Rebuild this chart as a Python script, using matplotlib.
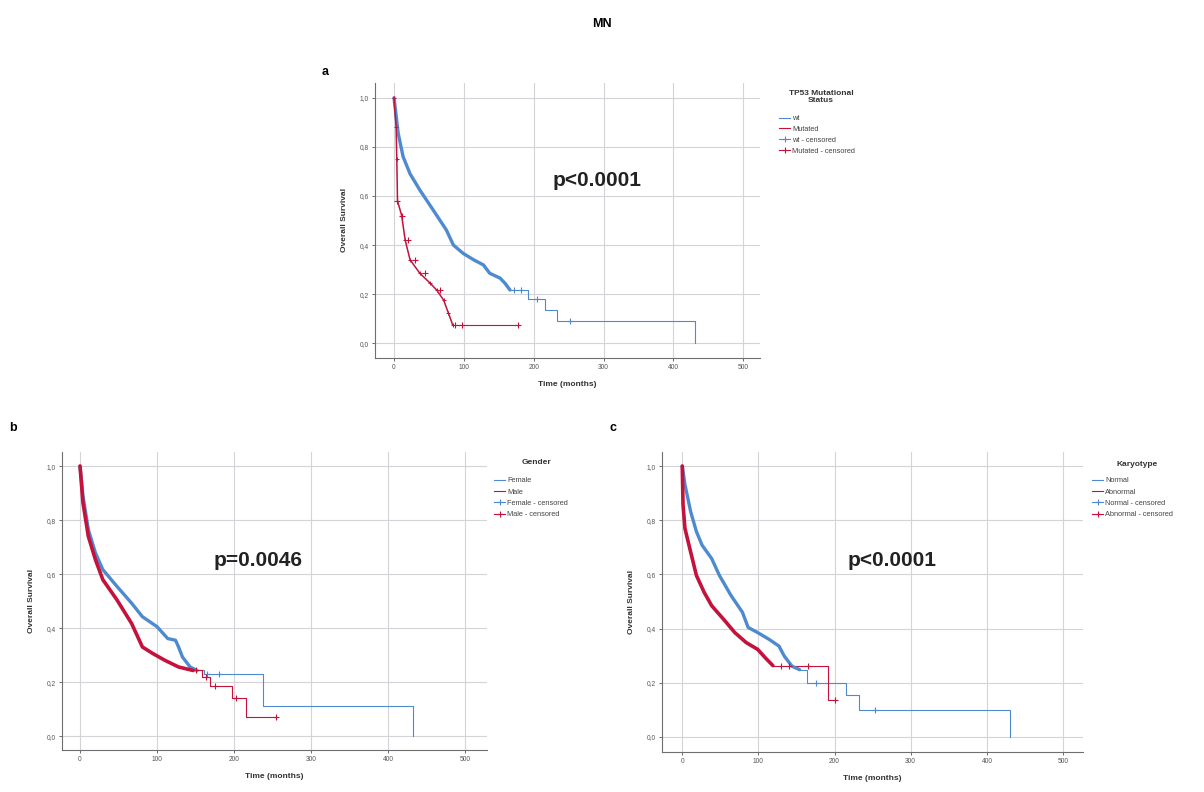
import matplotlib
matplotlib.use("Agg")
import matplotlib.pyplot as plt
from matplotlib.lines import Line2D

plt.rcParams['font.family'] = ['Liberation Sans', 'DejaVu Sans']

BLUE = "#4d8ad0"
RED = "#c4123c"

# panel a: TP53 mutational status
a_wt_t = [0, 6, 13, 23, 37, 56, 75, 85, 99, 114, 128, 137, 152, 159, 166, 192, 216, 233, 431]
a_wt_s = [1.0, 0.855, 0.76, 0.69, 0.624, 0.543, 0.461, 0.40, 0.366, 0.34, 0.319, 0.285,
          0.265, 0.244, 0.217, 0.18, 0.135, 0.09, 0.0]
a_wt_cens = [172, 182, 204, 252]
a_mut_t = [0, 3, 4, 5, 11, 16, 23, 37, 52, 61, 71, 78, 84, 177]
a_mut_s = [1.0, 0.88, 0.75, 0.58, 0.52, 0.42, 0.34, 0.285, 0.244, 0.217, 0.176, 0.122, 0.075, 0.075]
a_mut_cens = [5, 12, 20, 30, 45, 66, 88, 97, 177]

# panel b: gender
b_fem_t = [0, 3.8, 10.8, 20, 29.6, 48, 67, 81, 100, 114, 124, 128, 133, 143, 152, 161, 238, 433]
b_fem_s = [1.0, 0.89, 0.765, 0.679, 0.617, 0.555, 0.493, 0.443, 0.406, 0.362, 0.356, 0.331,
           0.294, 0.257, 0.244, 0.232, 0.114, 0.0]
b_fem_cens = [165, 180]
b_male_t = [0, 3.8, 10.8, 20, 29.6, 48, 67, 81, 95, 110, 128, 147, 159, 169, 197, 216, 255]
b_male_s = [1.0, 0.865, 0.74, 0.654, 0.58, 0.505, 0.418, 0.331, 0.306, 0.282, 0.257, 0.244,
            0.22, 0.186, 0.143, 0.071, 0.071]
b_male_cens = [150, 163, 175, 203, 255]

# panel c: karyotype
c_norm_t = [0, 3.5, 11, 18.6, 26, 38.7, 48.8, 64, 79, 86.5, 99, 114, 127, 134, 144, 154, 164,
            215, 232, 430]
c_norm_s = [1.0, 0.932, 0.832, 0.758, 0.708, 0.658, 0.596, 0.522, 0.46, 0.404, 0.385, 0.36,
            0.335, 0.298, 0.261, 0.248, 0.199, 0.155, 0.099, 0.0]
c_norm_cens = [175, 253]
c_abn_t = [0, 1, 3.5, 11, 18.6, 28.7, 38.7, 54, 69, 84, 99, 109, 119, 192, 200]
c_abn_s = [1.0, 0.857, 0.77, 0.683, 0.596, 0.534, 0.484, 0.435, 0.385, 0.348, 0.323, 0.292,
           0.263, 0.137, 0.137]
c_abn_cens = [130, 140, 165, 200]

x_ticks = [0, 100, 200, 300, 400, 500]
y_ticks = [0.0, 0.2, 0.4, 0.6, 0.8, 1.0]
y_tick_labels = ["0,0", "0,2", "0,4", "0,6", "0,8", "1,0"]


def surv_at(times, surv, t):
    value = surv[0]
    for ti, si in zip(times, surv):
        if ti <= t:
            value = si
    return value


def draw_curve(ax, times, surv, cens, color, dense_until, dense_lw, dense_marks=False):
    # densely censored early part: many tiny steps, drawn as a thick line
    k = len([t for t in times if t <= dense_until])
    ax.plot(times[:k], surv[:k], color=color, lw=dense_lw, solid_capstyle="round",
            solid_joinstyle="round", zorder=4)
    if dense_marks:
        ax.plot(times[:k], surv[:k], ls="none", marker="+", ms=3.5, mew=0.7, color=color, zorder=4)
    # sparse tail: real steps
    ax.step(times[k - 1:], surv[k - 1:], where="post", color=color, lw=0.8, zorder=3)
    ax.plot(cens, [surv_at(times, surv, c) for c in cens], ls="none", marker="+",
            ms=4, mew=0.8, color=color, zorder=4)


def style_axes(ax, xlim, ylim):
    ax.set_xlim(*xlim)
    ax.set_ylim(*ylim)
    ax.set_xticks(x_ticks)
    ax.set_yticks(y_ticks)
    ax.set_yticklabels(y_tick_labels)
    ax.grid(True, color="#d4d4d8", lw=0.8)
    ax.set_axisbelow(True)
    for side in ["top", "right"]:
        ax.spines[side].set_visible(False)
    for side in ["left", "bottom"]:
        ax.spines[side].set_color("#6e6e6e")
        ax.spines[side].set_linewidth(0.8)
    ax.tick_params(labelsize=4.8, length=2, width=0.6, pad=2.5, colors="#555555")
    ax.set_xlabel("Time (months)", fontsize=6, fontweight="bold", labelpad=7, color="#333333")
    ax.set_ylabel("Overall Survival", fontsize=6, fontweight="bold", labelpad=8, color="#333333")


def add_legend(fig, ax, title, title_xy, names, anchor, spacing):
    fig.text(title_xy[0] / 1204, 1 - title_xy[1] / 792, title, ha="center", va="center",
             fontsize=6, fontweight="bold", color="#333333", linespacing=1.15)
    handles = [
        Line2D([], [], color=BLUE, lw=0.8),
        Line2D([], [], color=RED, lw=0.8),
        Line2D([], [], color=BLUE, lw=0.8, marker="+", ms=5, mew=0.8),
        Line2D([], [], color=RED, lw=0.8, marker="+", ms=5, mew=0.8),
    ]
    labels = [names[0], names[1], names[0] + " - censored", names[1] + " - censored"]
    leg = ax.legend(handles, labels, loc="upper left",
                    bbox_to_anchor=(anchor[0] / 1204, 1 - anchor[1] / 792),
                    bbox_transform=fig.transFigure, frameon=False, fontsize=5.3,
                    handlelength=1.5, handletextpad=0.3, labelspacing=spacing,
                    borderpad=0, borderaxespad=0)
    for txt in leg.get_texts():
        txt.set_color("#444444")


fig = plt.figure(figsize=(12.04, 7.92), dpi=100)
fig.text(0.5, 1 - 24 / 792, "MN", ha="center", va="center", fontsize=9, fontweight="bold")

# panel a
ax_a = fig.add_axes([375 / 1204, 1 - 358 / 792, 385 / 1204, 275 / 792])
style_axes(ax_a, (-27.2, 523.9), (-0.06, 1.06))
draw_curve(ax_a, a_wt_t, a_wt_s, a_wt_cens, BLUE, 166, 2.4)
draw_curve(ax_a, a_mut_t, a_mut_s, a_mut_cens, RED, 84, 1.1, dense_marks=True)
fig.text(597 / 1204, 1 - 181 / 792, "p<0.0001", ha="center", va="center",
         fontsize=15, fontweight="bold", color="#222222")
fig.text(325 / 1204, 1 - 72 / 792, "a", ha="center", va="center", fontsize=9, fontweight="bold")
add_legend(fig, ax_a, "TP53 Mutational\nStatus", (821, 97), ["wt", "Mutated"], (779, 115), 0.5)

# panel b
ax_b = fig.add_axes([62 / 1204, 1 - 750 / 792, 425 / 1204, 298 / 792])
style_axes(ax_b, (-23.4, 528.6), (-0.05, 1.052))
draw_curve(ax_b, b_fem_t, b_fem_s, b_fem_cens, BLUE, 152, 2.4)
draw_curve(ax_b, b_male_t, b_male_s, b_male_cens, RED, 147, 2.6)
fig.text(258 / 1204, 1 - 561 / 792, "p=0.0046", ha="center", va="center",
         fontsize=15, fontweight="bold", color="#222222")
fig.text(13 / 1204, 1 - 428 / 792, "b", ha="center", va="center", fontsize=9, fontweight="bold")
add_legend(fig, ax_b, "Gender", (537, 463), ["Female", "Male"], (494, 477), 0.58)

# panel c
ax_c = fig.add_axes([662 / 1204, 1 - 751.7 / 792, 421 / 1204, 299.7 / 792])
style_axes(ax_c, (-26.6, 526.2), (-0.055, 1.052))
draw_curve(ax_c, c_norm_t, c_norm_s, c_norm_cens, BLUE, 154, 2.4)
draw_curve(ax_c, c_abn_t, c_abn_s, c_abn_cens, RED, 119, 2.6)
fig.text(892 / 1204, 1 - 561 / 792, "p<0.0001", ha="center", va="center",
         fontsize=15, fontweight="bold", color="#222222")
fig.text(613 / 1204, 1 - 428 / 792, "c", ha="center", va="center", fontsize=9, fontweight="bold")
add_legend(fig, ax_c, "Karyotype", (1137, 464), ["Normal", "Abnormal"], (1092, 477), 0.58)

fig.savefig("out.png", dpi=100, facecolor="white")
